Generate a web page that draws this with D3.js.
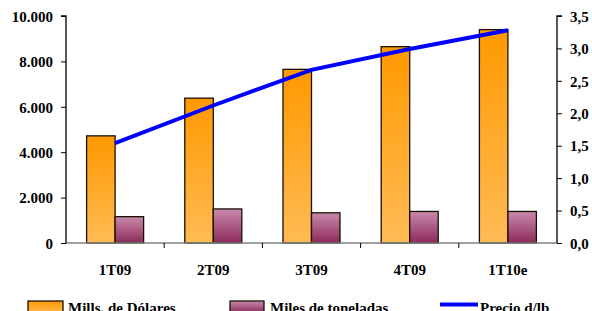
<!DOCTYPE html>
<html>
<head>
<meta charset="utf-8">
<script src="https://cdn.jsdelivr.net/npm/d3@7"></script>
<style>
  body { margin: 0; background: #fff; }
  text { font-family: "Liberation Serif", "Times New Roman", serif; font-weight: bold; fill: #000; }
</style>
</head>
<body>
<svg id="chart" width="592" height="311"></svg>
<script>
var categories = ["1T09", "2T09", "3T09", "4T09", "1T10e"];
var dolares = [4720, 6380, 7650, 8650, 9400];
var toneladas = [1160, 1500, 1330, 1390, 1390];
var precio = [1.54, 2.12, 2.67, 2.99, 3.28];
var leftTicks = [0, 2000, 4000, 6000, 8000, 10000];
var rightTicks = [0, 0.5, 1, 1.5, 2, 2.5, 3, 3.5];
var seriesNames = ["Mills. de Dólares", "Miles de toneladas", "Precio d/lb"];

var margin = {top: 16, right: 35, bottom: 68, left: 66},
    width = 592 - margin.left - margin.right,
    height = 311 - margin.top - margin.bottom;

var svg = d3.select("#chart");

// gradients for the bars
var defs = svg.append("defs");
function grad(id, top, bottom) {
  var g = defs.append("linearGradient").attr("id", id)
      .attr("x1", 0).attr("y1", 0).attr("x2", 0).attr("y2", 1);
  g.append("stop").attr("offset", "0%").attr("stop-color", top);
  g.append("stop").attr("offset", "100%").attr("stop-color", bottom);
}
grad("gOrange", "#ff9900", "#ffbb55");
grad("gMauve", "#c98aac", "#8c2a5a");

var g = svg.append("g").attr("transform", "translate(" + margin.left + "," + margin.top + ")");

var x = d3.scaleBand().domain(categories).range([0, width]).padding(0);
var bw = 28.5;
var x1 = d3.scaleBand().domain(["d", "t"]).range([x.bandwidth() / 2 - bw, x.bandwidth() / 2 + bw]);
var y = d3.scaleLinear().domain([0, 10000]).range([height, 0]);
var y2 = d3.scaleLinear().domain([0, 3.5]).range([height, 0]);

// bars
function bars(vals, key, fill) {
  g.selectAll(".bar-" + key)
    .data(vals)
    .enter().append("rect")
      .attr("class", "bar-" + key)
      .attr("x", function(d, i) { return x(categories[i]) + x1(key); })
      .attr("width", x1.bandwidth())
      .attr("y", function(d) { return y(d); })
      .attr("height", function(d) { return height - y(d); })
      .attr("fill", fill)
      .attr("stroke", "#1a1000")
      .attr("stroke-width", 1.3);
}
bars(dolares, "d", "url(#gOrange)");
bars(toneladas, "t", "url(#gMauve)");

// x axis
var xAxis = g.append("g")
    .attr("transform", "translate(0," + height + ")");
xAxis.append("line").attr("x1", 0).attr("x2", width).attr("stroke", "#808080").attr("stroke-width", 1.5);
xAxis.selectAll(".xt")
  .data(categories.slice(1))
  .enter().append("line")
    .attr("x1", function(d) { return x(d); })
    .attr("x2", function(d) { return x(d); })
    .attr("y1", 0).attr("y2", 5)
    .attr("stroke", "#000");
xAxis.selectAll(".xl")
  .data(categories)
  .enter().append("text")
    .attr("x", function(d) { return x(d) + x.bandwidth() / 2; })
    .attr("y", 32)
    .attr("text-anchor", "middle")
    .style("font-size", "15px")
    .text(function(d) { return d; });

// left axis
var fmtL = function(d) { return d3.format(",")(d).replace(/,/g, "."); };
var yAxis = g.append("g")
    .call(d3.axisLeft(y).tickValues(leftTicks).tickSize(5).tickPadding(8).tickFormat(fmtL));
yAxis.selectAll("text").style("font-size", "15px").attr("dy", "0.35em");
yAxis.select(".domain").attr("d", "M0," + height + "V0H-5").attr("stroke-width", 1.3);

// right axis
var fmtR = function(d) { return d3.format(".1f")(d).replace(".", ","); };
var yAxis2 = g.append("g")
    .attr("transform", "translate(" + width + ",0)")
    .call(d3.axisRight(y2).tickValues(rightTicks).tickSize(5).tickPadding(8).tickFormat(fmtR));
yAxis2.selectAll("text").style("font-size", "15px").attr("dy", "0.35em");
yAxis2.select(".domain").attr("d", "M0," + height + "V0H5").attr("stroke-width", 1.3);

// price line
var line = d3.line()
    .x(function(d, i) { return x(categories[i]) + x.bandwidth() / 2; })
    .y(function(d) { return y2(d); });
g.append("path")
    .datum(precio)
    .attr("fill", "none")
    .attr("stroke", "#0000ff")
    .attr("stroke-width", 4)
    .attr("d", line);

// legend (cut by the bottom edge, as in the original)
var leg = svg.append("g");
var legX = [28, 230, 440];
leg.append("rect").attr("x", legX[0]).attr("y", 301).attr("width", 35).attr("height", 12)
   .attr("fill", "url(#gOrange)").attr("stroke", "#1a1000").attr("stroke-width", 1.3);
leg.append("rect").attr("x", legX[1]).attr("y", 301).attr("width", 34).attr("height", 12)
   .attr("fill", "url(#gMauve)").attr("stroke", "#1a1000").attr("stroke-width", 1.3);
leg.append("line").attr("x1", legX[2]).attr("x2", legX[2] + 38).attr("y1", 304.5).attr("y2", 304.5)
   .attr("stroke", "#0000ff").attr("stroke-width", 4);
leg.selectAll(".lt")
  .data(seriesNames)
  .enter().append("text")
    .attr("x", function(d, i) { return [68, 270, 480][i]; })
    .attr("y", 313)
    .style("font-size", "15px")
    .text(function(d) { return d; });
</script>
</body>
</html>
